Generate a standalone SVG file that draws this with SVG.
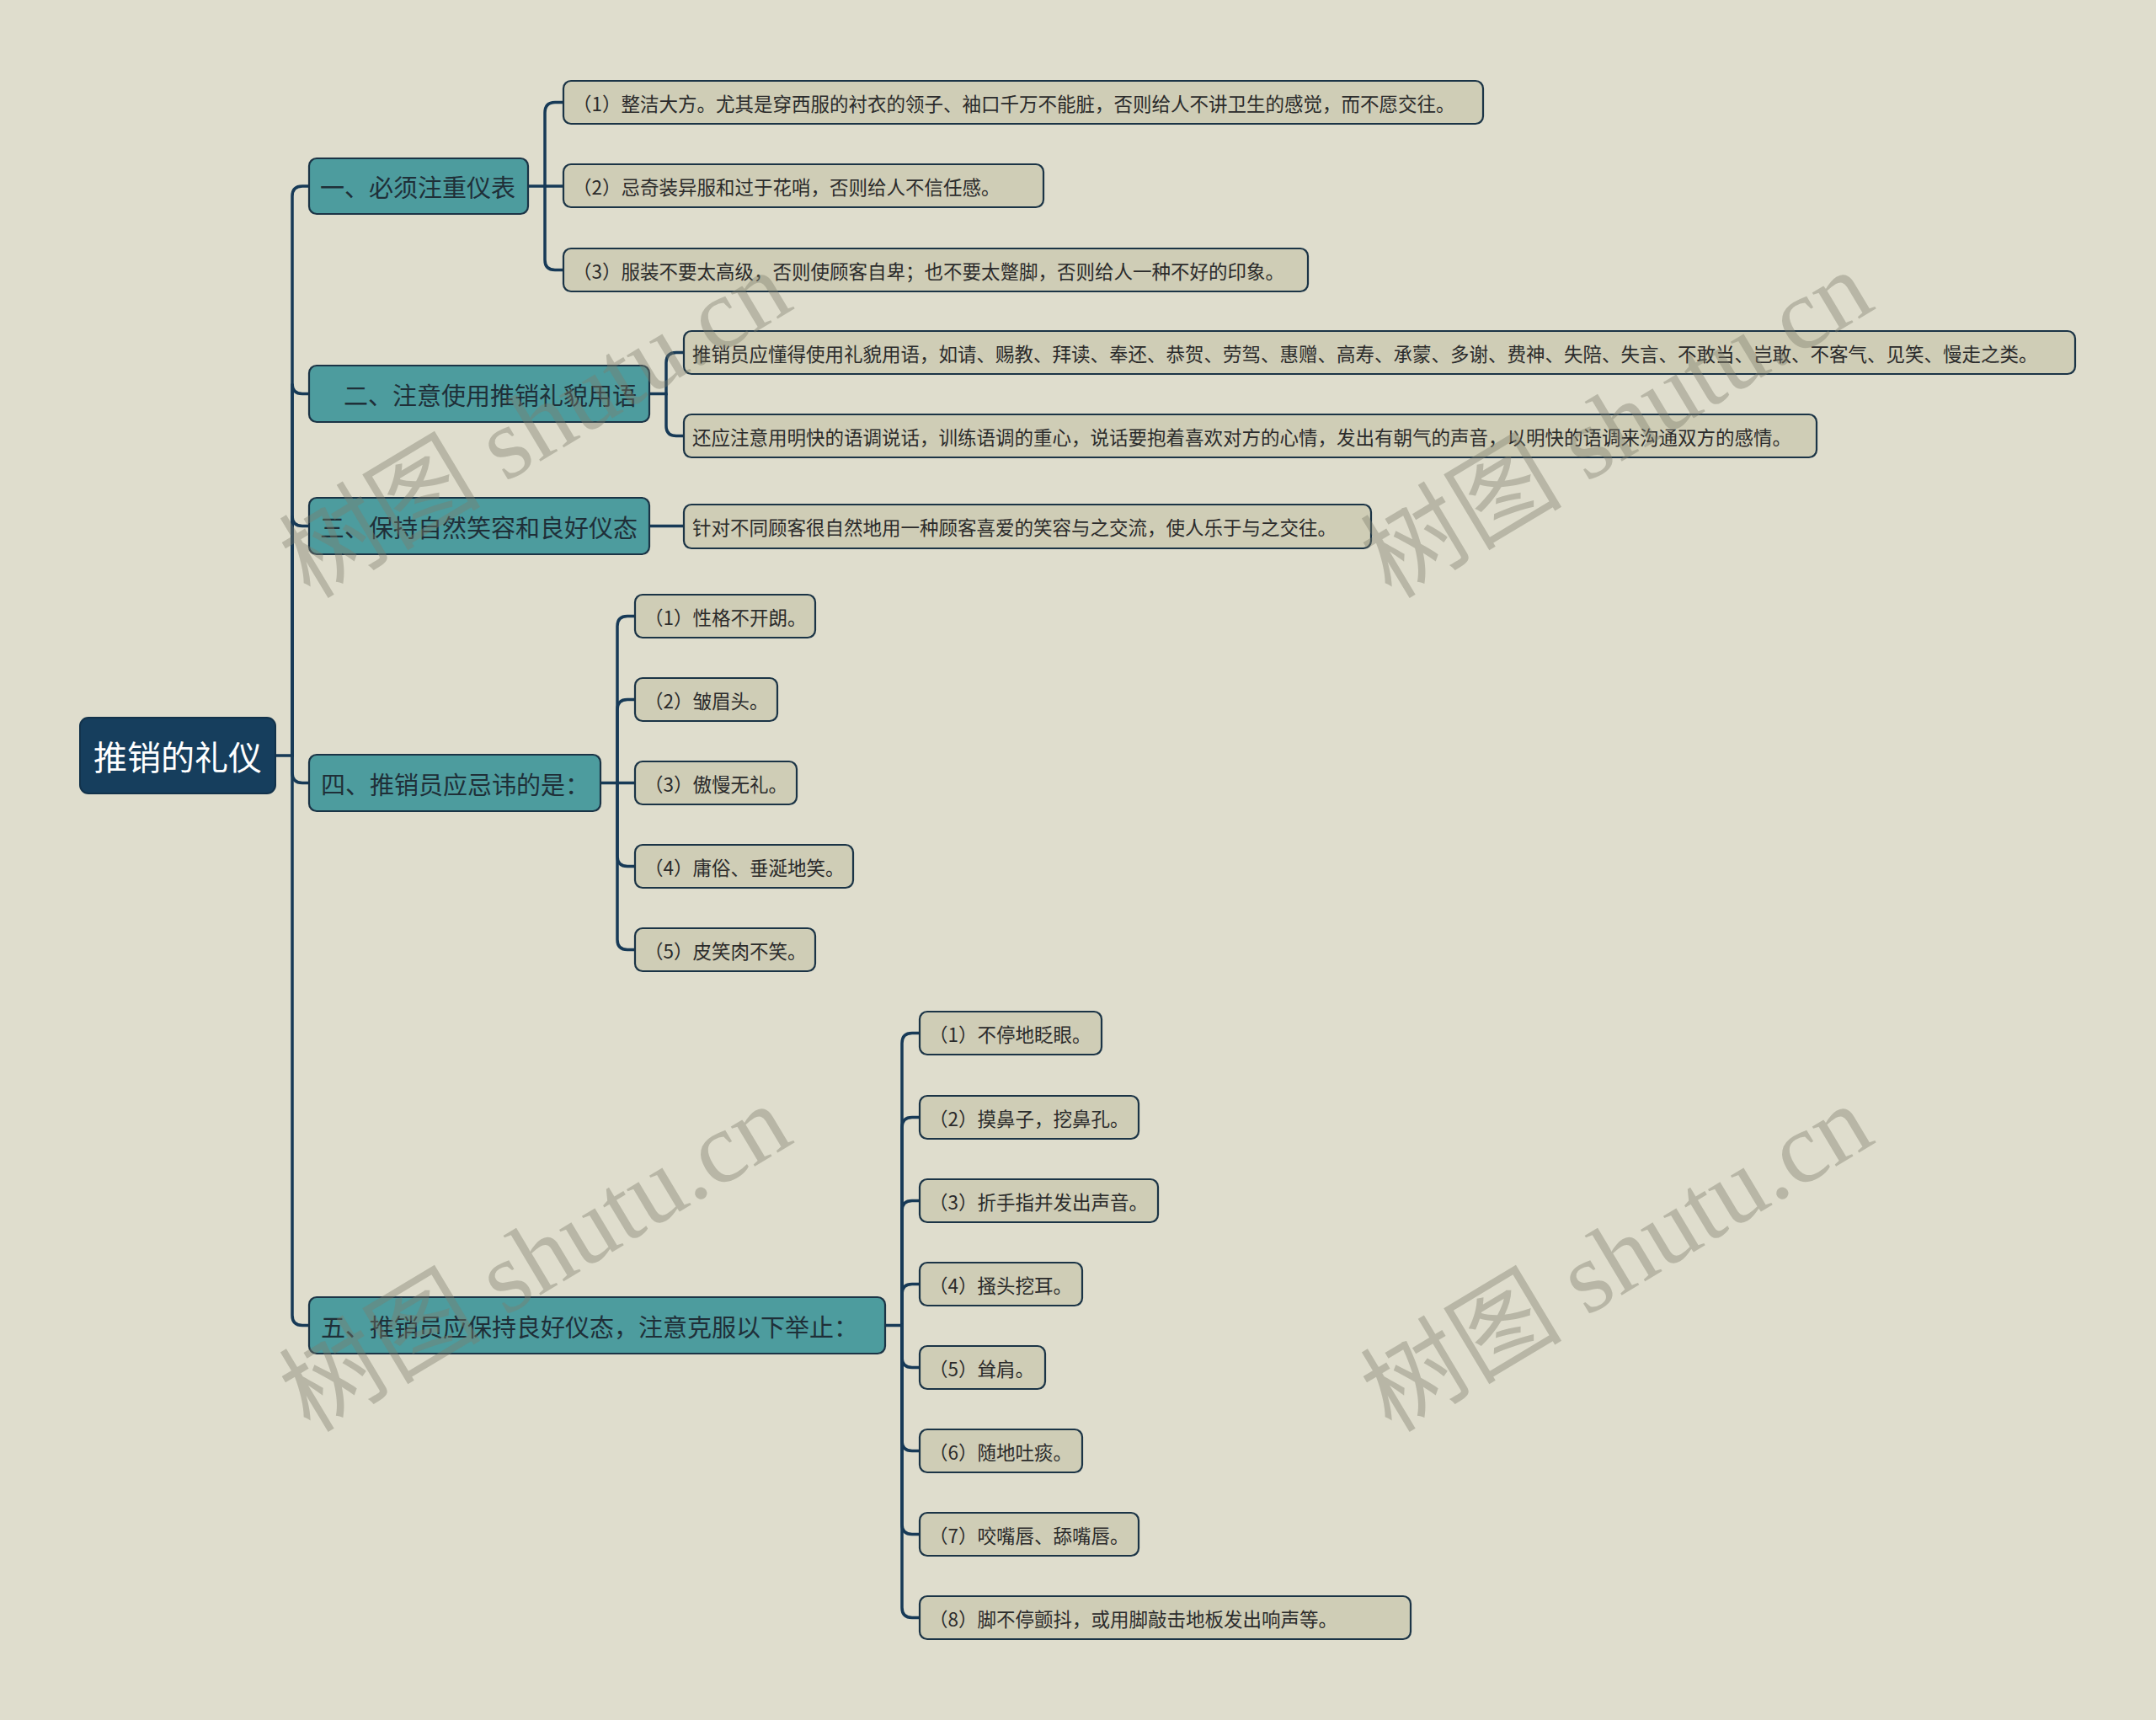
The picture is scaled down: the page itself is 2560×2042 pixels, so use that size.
<svg xmlns="http://www.w3.org/2000/svg" width="2560" height="2042" viewBox="0 0 2560 2042">
<style>
.bg{fill:#dfddcd}
.root rect{fill:#163e5d;stroke:#12324b;stroke-width:2}
.root text{fill:#ffffff;font-size:40px}
.l1 rect{fill:#4d9c9e;stroke:#1b3446;stroke-width:2.2}
.l1 text{fill:#1f2f38;font-size:29px}
.leaf rect{fill:#cfcdb6;stroke:#1b3446;stroke-width:2.2}
.leaf text{fill:#2b2b2b;font-size:22.5px}
text{font-family:"Noto Sans CJK SC","Microsoft YaHei",sans-serif;dominant-baseline:central}
#connectors path{fill:none;stroke:#173a57;stroke-width:3.5;stroke-linecap:round}
.wm{font-family:"Liberation Serif","Noto Sans CJK SC",serif;font-size:120px;fill:#7d7c6c;fill-opacity:0.40;dominant-baseline:alphabetic}
</style>
<rect class="bg" x="0" y="0" width="2560" height="2042"/>

<g id="connectors">
  <path d="M327,897 H347 V233 Q347,221 359,221 H367"/>
  <path d="M347,897 V455.5 Q347,467.5 359,467.5 H367"/>
  <path d="M347,897 V612.5 Q347,624.5 359,624.5 H367"/>
  <path d="M347,897 V917.5 Q347,929.5 359,929.5 H367"/>
  <path d="M347,897 V1561.5 Q347,1573.5 359,1573.5 H367"/>
  <path d="M627,221 H669"/>
  <path d="M647,221 V134 Q647,121.5 659,121.5 H669"/>
  <path d="M647,221 V308.5 Q647,320.5 659,320.5 H669"/>
  <path d="M771,467.5 H791 V430.5 Q791,418.5 803,418.5 H812"/>
  <path d="M791,467.5 V505.5 Q791,517.5 803,517.5 H812"/>
  <path d="M771,624.5 H812"/>
  <path d="M713,929.5 H754"/>
  <path d="M733,929.5 V743.5 Q733,731.5 745,731.5 H754"/>
  <path d="M733,929.5 V842.5 Q733,830.5 745,830.5 H754"/>
  <path d="M733,929.5 V1016.5 Q733,1028.5 745,1028.5 H754"/>
  <path d="M733,929.5 V1115.5 Q733,1127.5 745,1127.5 H754"/>
  <path d="M1051,1573.5 H1071 V1238.5 Q1071,1226.5 1083,1226.5 H1092"/>
  <path d="M1071,1573.5 V1338.5 Q1071,1326.5 1083,1326.5 H1092"/>
  <path d="M1071,1573.5 V1437.5 Q1071,1425.5 1083,1425.5 H1092"/>
  <path d="M1071,1573.5 V1536.5 Q1071,1524.5 1083,1524.5 H1092"/>
  <path d="M1071,1573.5 V1611.5 Q1071,1623.5 1083,1623.5 H1092"/>
  <path d="M1071,1573.5 V1710.5 Q1071,1722.5 1083,1722.5 H1092"/>
  <path d="M1071,1573.5 V1809.5 Q1071,1821.5 1083,1821.5 H1092"/>
  <path d="M1071,1573.5 V1908.5 Q1071,1920.5 1083,1920.5 H1092"/>
</g>

<g id="root" class="root">
  <rect x="95" y="852" width="232" height="90" rx="10"/>
  <text x="211" y="897" text-anchor="middle">推销的礼仪</text>
</g>

<g id="n1" class="l1">
  <rect x="367" y="188" width="260" height="66" rx="9"/>
  <text x="380" y="221">一、必须注重仪表</text>
</g>
<g id="n1-1" class="leaf">
  <rect x="669" y="96" width="1092" height="51" rx="9"/>
  <text x="680" y="121.5">（1）整洁大方。尤其是穿西服的衬衣的领子、袖口千万不能脏，否则给人不讲卫生的感觉，而不愿交往。</text>
</g>
<g id="n1-2" class="leaf">
  <rect x="669" y="195" width="570" height="51" rx="9"/>
  <text x="680" y="220.5">（2）忌奇装异服和过于花哨，否则给人不信任感。</text>
</g>
<g id="n1-3" class="leaf">
  <rect x="669" y="295" width="884" height="51" rx="9"/>
  <text x="680" y="320.5">（3）服装不要太高级，否则使顾客自卑；也不要太蹩脚，否则给人一种不好的印象。</text>
</g>

<g id="n2" class="l1">
  <rect x="367" y="434" width="404" height="67" rx="9"/>
  <text x="408" y="467.5">二、注意使用推销礼貌用语</text>
</g>
<g id="n2-1" class="leaf">
  <rect x="812" y="393" width="1652" height="51" rx="9"/>
  <text x="822" y="418.5">推销员应懂得使用礼貌用语，如请、赐教、拜读、奉还、恭贺、劳驾、惠赠、高寿、承蒙、多谢、费神、失陪、失言、不敢当、岂敢、不客气、见笑、慢走之类。</text>
</g>
<g id="n2-2" class="leaf">
  <rect x="812" y="492" width="1345" height="51" rx="9"/>
  <text x="822" y="517.5">还应注意用明快的语调说话，训练语调的重心，说话要抱着喜欢对方的心情，发出有朝气的声音，以明快的语调来沟通双方的感情。</text>
</g>

<g id="n3" class="l1">
  <rect x="367" y="591" width="404" height="67" rx="9"/>
  <text x="380" y="624.5">三、保持自然笑容和良好仪态</text>
</g>
<g id="n3-1" class="leaf">
  <rect x="812" y="599" width="816" height="52" rx="9"/>
  <text x="822" y="625">针对不同顾客很自然地用一种顾客喜爱的笑容与之交流，使人乐于与之交往。</text>
</g>

<g id="n4" class="l1">
  <rect x="367" y="896" width="346" height="67" rx="9"/>
  <text x="381" y="929.5">四、推销员应忌讳的是：</text>
</g>
<g id="n4-1" class="leaf">
  <rect x="754" y="706" width="214" height="51" rx="9"/>
  <text x="765" y="731.5">（1）性格不开朗。</text>
</g>
<g id="n4-2" class="leaf">
  <rect x="754" y="805" width="169" height="51" rx="9"/>
  <text x="765" y="830.5">（2）皱眉头。</text>
</g>
<g id="n4-3" class="leaf">
  <rect x="754" y="904" width="192" height="51" rx="9"/>
  <text x="765" y="929.5">（3）傲慢无礼。</text>
</g>
<g id="n4-4" class="leaf">
  <rect x="754" y="1003" width="259" height="51" rx="9"/>
  <text x="765" y="1028.5">（4）庸俗、垂涎地笑。</text>
</g>
<g id="n4-5" class="leaf">
  <rect x="754" y="1102" width="214" height="51" rx="9"/>
  <text x="765" y="1127.5">（5）皮笑肉不笑。</text>
</g>

<g id="n5" class="l1">
  <rect x="367" y="1540" width="684" height="67" rx="9"/>
  <text x="381" y="1573.5">五、推销员应保持良好仪态，注意克服以下举止：</text>
</g>
<g id="n5-1" class="leaf">
  <rect x="1092" y="1201" width="216" height="51" rx="9"/>
  <text x="1103" y="1226.5">（1）不停地眨眼。</text>
</g>
<g id="n5-2" class="leaf">
  <rect x="1092" y="1301" width="260" height="51" rx="9"/>
  <text x="1103" y="1326.5">（2）摸鼻子，挖鼻孔。</text>
</g>
<g id="n5-3" class="leaf">
  <rect x="1092" y="1400" width="283" height="51" rx="9"/>
  <text x="1103" y="1425.5">（3）折手指并发出声音。</text>
</g>
<g id="n5-4" class="leaf">
  <rect x="1092" y="1499" width="193" height="51" rx="9"/>
  <text x="1103" y="1524.5">（4）搔头挖耳。</text>
</g>
<g id="n5-5" class="leaf">
  <rect x="1092" y="1598" width="149" height="51" rx="9"/>
  <text x="1103" y="1623.5">（5）耸肩。</text>
</g>
<g id="n5-6" class="leaf">
  <rect x="1092" y="1697" width="193" height="51" rx="9"/>
  <text x="1103" y="1722.5">（6）随地吐痰。</text>
</g>
<g id="n5-7" class="leaf">
  <rect x="1092" y="1796" width="260" height="51" rx="9"/>
  <text x="1103" y="1821.5">（7）咬嘴唇、舔嘴唇。</text>
</g>
<g id="n5-8" class="leaf">
  <rect x="1092" y="1895" width="583" height="51" rx="9"/>
  <text x="1103" y="1920.5">（8）脚不停颤抖，或用脚敲击地板发出响声等。</text>
</g>

<g id="watermarks">
  <text class="wm" transform="translate(368,712) rotate(-31)">树图 shutu.cn</text>
  <text class="wm" transform="translate(1652,712) rotate(-31)">树图 shutu.cn</text>
  <text class="wm" transform="translate(368,1702) rotate(-31)">树图 shutu.cn</text>
  <text class="wm" transform="translate(1652,1702) rotate(-31)">树图 shutu.cn</text>
</g>
</svg>
